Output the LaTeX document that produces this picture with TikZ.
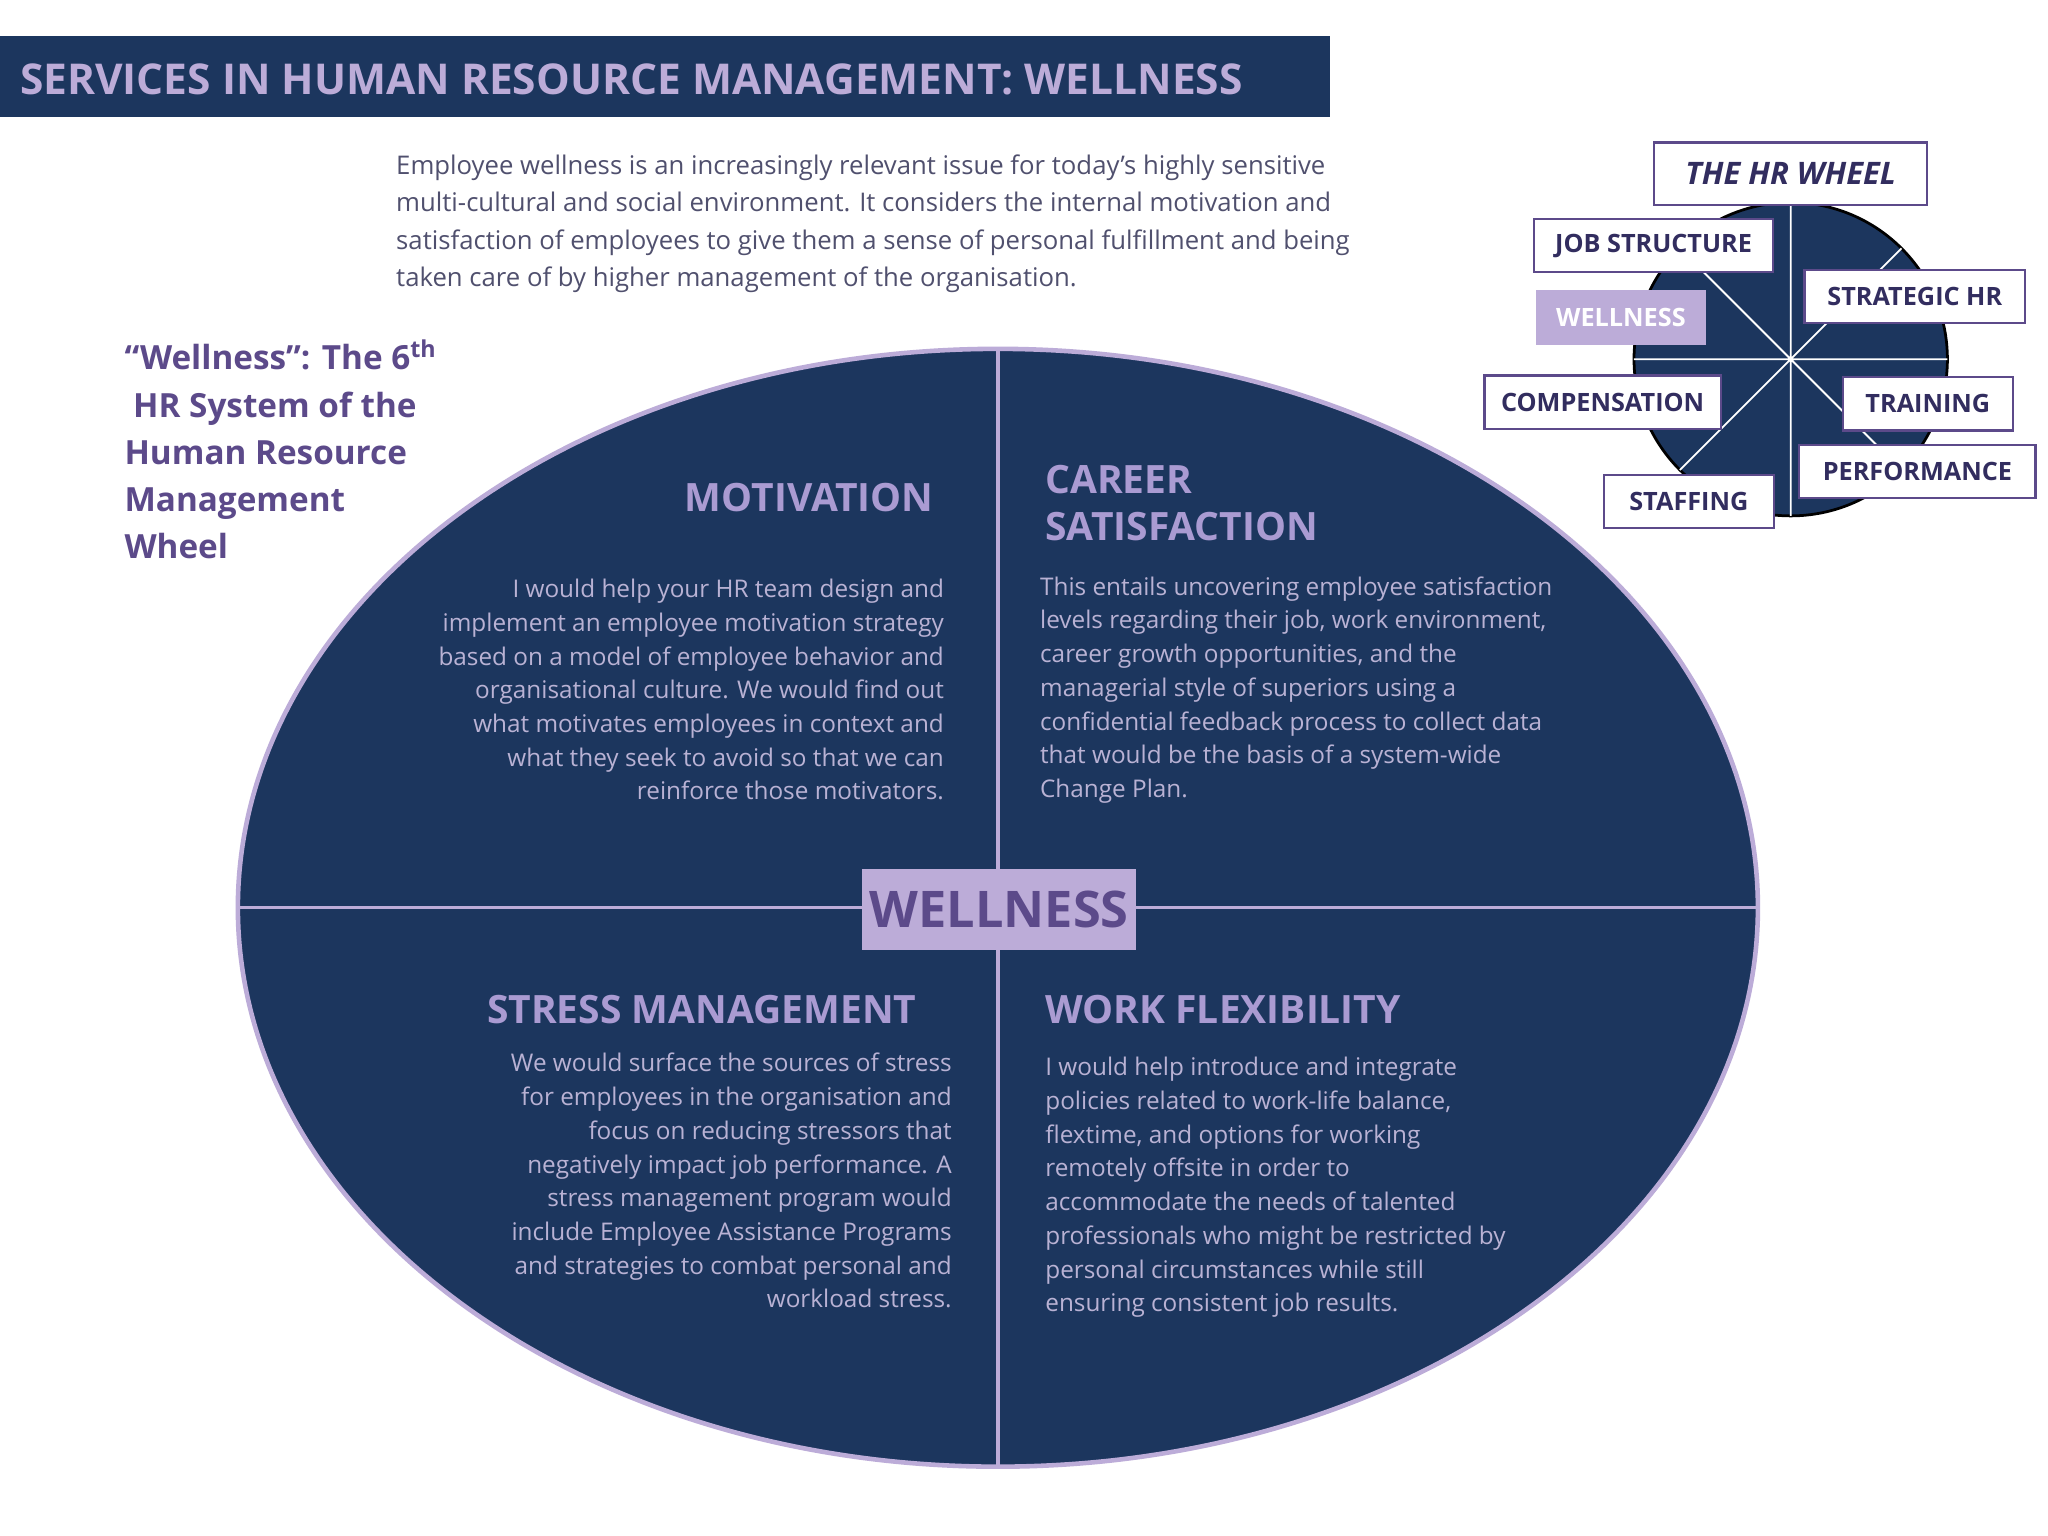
\documentclass[tikz,border=0pt]{standalone}
\usetikzlibrary{shapes.geometric}
\usepackage{fontspec}
\setmainfont{Open Sans}
\definecolor{navy}{RGB}{28,54,94}
\definecolor{lav}{RGB}{188,172,216}
\definecolor{lavtxt}{RGB}{170,155,210}
\definecolor{bodytxt}{RGB}{185,178,212}
\definecolor{purp}{RGB}{92,74,138}
\definecolor{gray1}{RGB}{80,80,110}
\definecolor{wlbl}{RGB}{50,45,95}
\begin{document}
\begin{tikzpicture}[x=0.02cm,y=-0.02cm,
  head/.style={font=\bfseries\fontsize{17}{21}\selectfont,text=lavtxt,inner sep=0pt},
  body/.style={font=\fontsize{10.6}{14.7}\selectfont,text=bodytxt,inner sep=0pt},
  wbox/.style={draw=purp,line width=1pt,fill=white,minimum height=0.82cm,font=\bfseries\fontsize{11}{13}\selectfont,text=wlbl,inner sep=0pt}]
\useasboundingbox[fill=white](0,0) rectangle (1568,1176);
% title
\node[fill=navy,minimum width=20.36cm,minimum height=1.24cm,anchor=north west,inner sep=0pt] (bar) at (0,27) {};
\node[anchor=west,font=\bfseries\fontsize{18.5}{22}\selectfont,text=lav,inner sep=0pt] (title) at (15,61) {SERVICES IN HUMAN RESOURCE MANAGEMENT: WELLNESS};
% intro
\node[anchor=north west,align=left,font=\fontsize{11.2}{16.3}\selectfont,text=gray1,inner sep=0pt] (intro) at (303,118) {Employee wellness is an increasingly relevant issue for today’s highly sensitive\\multi-cultural and social environment. It considers the internal motivation and\\satisfaction of employees to give them a sense of personal fulfillment and being\\taken care of by higher management of the organisation.};
% left text
\node[anchor=north west,align=left,font=\bfseries\fontsize{14.5}{20.6}\selectfont,text=purp,inner sep=0pt] (side) at (95,260) {“Wellness”: The 6\textsuperscript{th}\\\ HR System of the\\Human Resource\\Management\\Wheel};
% ellipse
\node[ellipse,draw=lav,line width=2pt,fill=navy,minimum width=23.28cm,minimum height=17.12cm,inner sep=0pt] (ell) at (764,695) {};
\coordinate (vt) at (764,267); \coordinate (vb) at (764,1123);
\coordinate (hl) at (182,695); \coordinate (hr) at (1346,695);
\draw[lav,line width=1.5pt] (vt)--(vb);
\draw[lav,line width=1.5pt] (hl)--(hr);
\node[fill=lav,minimum width=4.2cm,minimum height=1.24cm,font=\bfseries\fontsize{22}{26}\selectfont,text=purp,inner sep=0pt] (well) at (765,696) {WELLNESS};
% quadrants
\node[head,anchor=east] (mot) at (715,381) {MOTIVATION};
\node[body,anchor=north east,align=right] (mott) at (723,443) {I would help your HR team design and\\implement an employee motivation strategy\\based on a model of employee behavior and\\organisational culture. We would find out\\what motivates employees in context and\\what they seek to avoid so that we can\\reinforce those motivators.};
\node[head,anchor=north west,align=left,font=\bfseries\fontsize{17}{20.6}\selectfont] (car) at (800,356) {CAREER\\SATISFACTION};
\node[body,anchor=north west,align=left] (cart) at (796,441) {This entails uncovering employee satisfaction\\levels regarding their job, work environment,\\career growth opportunities, and the\\managerial style of superiors using a\\confidential feedback process to collect data\\that would be the basis of a system-wide\\Change Plan.};
\node[head,anchor=east] (str) at (702,773) {STRESS MANAGEMENT};
\node[body,anchor=north east,align=right] (strt) at (729,806) {We would surface the sources of stress\\for employees in the organisation and\\focus on reducing stressors that\\negatively impact job performance. A\\stress management program would\\include Employee Assistance Programs\\and strategies to combat personal and\\workload stress.};
\node[head,anchor=west] (wf) at (800,773) {WORK FLEXIBILITY};
\node[body,anchor=north west,align=left] (wft) at (800,809) {I would help introduce and integrate\\policies related to work-life balance,\\flextime, and options for working\\remotely offsite in order to\\accommodate the needs of talented\\professionals who might be restricted by\\personal circumstances while still\\ensuring consistent job results.};
% HR wheel
\node[circle,draw=black,line width=1.2pt,fill=navy,minimum size=4.8cm,inner sep=0pt] (wh) at (1371,275) {};
\begin{scope}
\clip (1371,275) circle (120);
\draw[white,line width=0.8pt] (1371,150)--(1371,400) (1246,275)--(1496,275) (1286,190)--(1456,360) (1286,360)--(1456,190);
\end{scope}
\node[wbox,minimum width=4.18cm,minimum height=0.96cm,font=\bfseries\itshape\fontsize{13.5}{16}\selectfont] (hrw) at (1371,133) {THE HR WHEEL};
\node[wbox,minimum width=3.66cm] (js) at (1266,188) {JOB STRUCTURE};
\node[wbox,minimum width=3.38cm] (sh) at (1466,227) {STRATEGIC HR};
\node[fill=lav,minimum width=2.6cm,minimum height=0.84cm,font=\bfseries\fontsize{11}{13}\selectfont,text=white,inner sep=0pt] (wl) at (1241,243) {WELLNESS};
\node[wbox,minimum width=3.62cm] (cp) at (1227,308) {COMPENSATION};
\node[wbox,minimum width=2.6cm] (tr) at (1476,309) {TRAINING};
\node[wbox,minimum width=3.62cm] (pf) at (1468,361) {PERFORMANCE};
\node[wbox,minimum width=2.6cm] (sf) at (1293,384) {STAFFING};
\end{tikzpicture}
\end{document}
